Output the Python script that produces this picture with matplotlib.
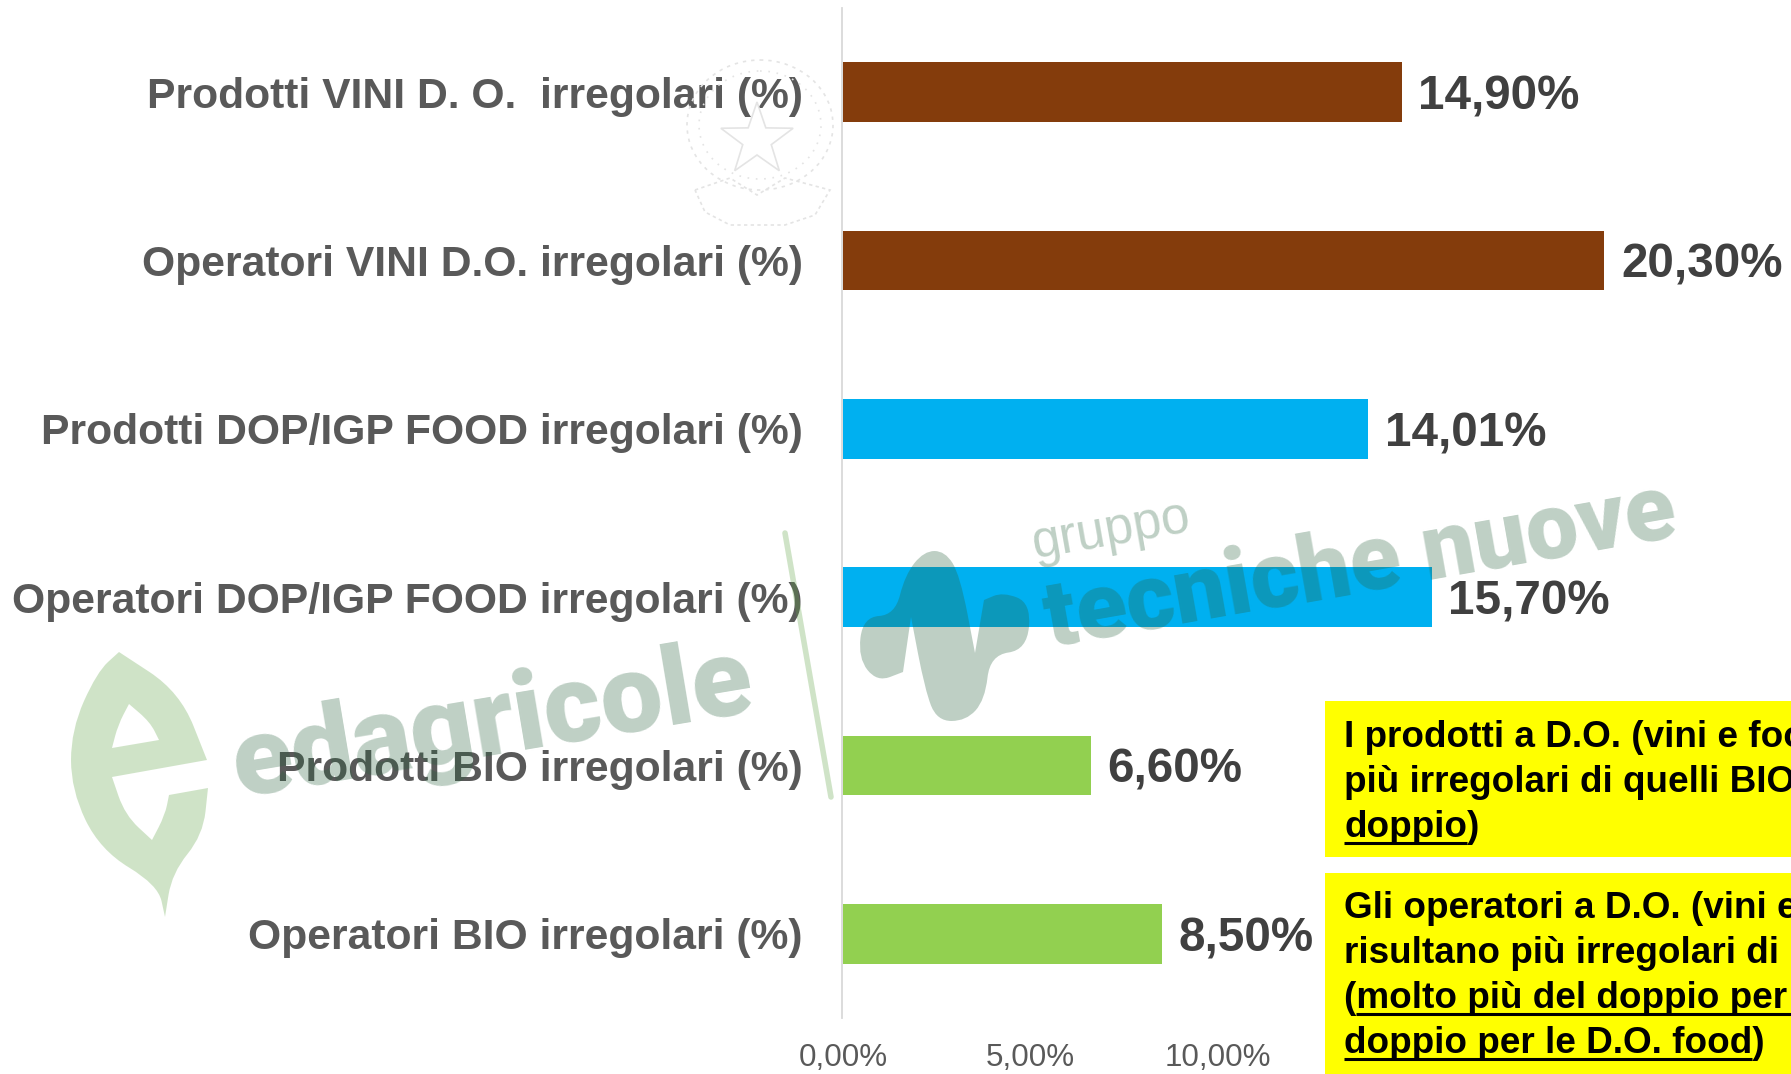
import matplotlib
matplotlib.use("Agg")
import matplotlib.pyplot as plt
from matplotlib.path import Path
from matplotlib.patches import PathPatch, Rectangle, Ellipse, Polygon
import numpy as np

plt.rcParams['font.family'] = ['Liberation Sans', 'DejaVu Sans']

categories = ['Prodotti VINI D. O.  irregolari (%)', 'Operatori VINI D.O. irregolari (%)',
              'Prodotti DOP/IGP FOOD irregolari (%)', 'Operatori DOP/IGP FOOD irregolari (%)',
              'Prodotti BIO irregolari (%)', 'Operatori BIO irregolari (%)']
values = [14.90, 20.30, 14.01, 15.70, 6.60, 8.50]
bar_colors = ['#843C0C', '#843C0C', '#00B0F0', '#00B0F0', '#92D050', '#92D050']
x_ticks = [0, 5, 10]

box1_lines = ['I prodotti a D.O. (vini e food', 'più irregolari di quelli BIO', 'doppio)']
box2_lines = ['Gli operatori a D.O. (vini e', 'risultano più irregolari di',
              '(molto più del doppio per', 'doppio per le D.O. food)']

W, H = 1791, 1074


def pct(v):
    return '{:.2f}%'.format(v).replace('.', ',')


def blob(points):
    # closed smooth outline, a point given twice stays a sharp corner
    verts, codes = [], []
    n = len(points)
    pts = np.array(points, dtype=float)
    verts.append((pts[0] + pts[1]) / 2)
    codes.append(Path.MOVETO)
    for i in range(1, n + 1):
        p = pts[i % n]
        nxt = pts[(i + 1) % n]
        verts += [p, (p + nxt) / 2]
        codes += [Path.CURVE3, Path.CURVE3]
    return verts, codes


fig = plt.figure(figsize=(W / 100, H / 100), dpi=100)
ax = fig.add_axes([843 / W, (H - 1018) / H, (W - 843) / W, 1010 / H])
# set_position resets the ticks, so it comes first
ax.spines['left'].set_position(('outward', 0.8))
y = np.arange(len(categories))
ax.barh(y, values, height=0.356, color=bar_colors)
ax.set_xlim(0, (W - 843) / 37.5)
ax.set_ylim(5.5, -0.5)
ax.set_yticks(y)
ax.set_yticklabels(categories, fontsize=30.7, fontweight='bold', color='#595959')
ax.set_xticks(x_ticks)
ax.set_xticklabels([pct(v) for v in x_ticks], fontsize=22.6, color='#595959')
ax.tick_params(axis='y', length=0, pad=28)
ax.tick_params(axis='x', length=0, pad=18)
for s in ['top', 'right', 'bottom']:
    ax.spines[s].set_visible(False)
ax.spines['left'].set_color('#D9D9D9')
ax.spines['left'].set_linewidth(1.3)
for yi, v in zip(y, values):
    ax.annotate(pct(v), (v, yi), xytext=(12, -3.5), textcoords='offset points',
                va='center', ha='left', fontsize=34.3, fontweight='bold', color='#404040')

# overlay in pixel coordinates for boxes and watermarks
ov = fig.add_axes([0, 0, 1, 1], zorder=5)
ov.set_xlim(0, W)
ov.set_ylim(H, 0)
ov.axis('off')
ov.patch.set_alpha(0)


def text_w(s, **kw):
    t = ov.text(0, 0, s, **kw)
    w = t.get_window_extent(fig.canvas.get_renderer()).width
    t.remove()
    return w


box_font = dict(fontsize=26.6, fontweight='bold', color='black')
ov.add_patch(Rectangle((1325, 701), W - 1325, 156, color='#FFFF00', lw=0))
ov.add_patch(Rectangle((1325, 873), W - 1325, 201, color='#FFFF00', lw=0))
for line, base in zip(box1_lines, [747, 792, 837]):
    ov.text(1344, base, line, va='baseline', **box_font)
for line, base in zip(box2_lines, [918, 963, 1008, 1053]):
    ov.text(1344, base, line, va='baseline', **box_font)

# underlined parts
ul = dict(color='black', lw=2.2, solid_capstyle='butt')
ov.plot([1344, 1344 + text_w('doppio', **box_font)], [843, 843], **ul)
x0 = 1344 + text_w('(', **box_font)
ov.plot([x0, W], [1014, 1014], **ul)
ov.plot([1344, 1344 + text_w('doppio per le D.O. food', **box_font)], [1059, 1059], **ul)

# watermark: edagricole leaf
leaf_v, leaf_c = blob([(119, 652), (119, 652), (180, 692), (207, 760), (207, 760),
                       (112, 777), (112, 777), (125, 815), (152, 840), (152, 840),
                       (165, 815), (169, 795), (169, 795), (208, 788), (208, 788),
                       (203, 835), (172, 873), (165, 917), (165, 917), (158, 885),
                       (100, 850), (71, 790), (71, 730), (97, 672)])
hole_v, hole_c = blob([(129, 704), (129, 704), (150, 722), (159, 740), (159, 740),
                       (112, 748), (112, 748), (118, 725)])
ov.add_patch(PathPatch(Path(leaf_v + hole_v[::-1], leaf_c + [Path.MOVETO] + hole_c[1:]),
                       fc='#62A548', ec='none', alpha=0.3))
ov.plot([785, 831], [533, 797], color='#62A548', alpha=0.3, lw=4, solid_capstyle='round')
wm = dict(color='#29623E', alpha=0.3, rotation_mode='anchor', va='baseline', ha='left')
ov.text(238, 797, 'edagricole', fontsize=79.5, family='Roboto', fontweight='black', rotation=9.5, **wm)

# watermark: gruppo tecniche nuove
logo_v, logo_c = blob([(924, 551), (945, 551), (960, 575), (975, 653), (975, 653),
                       (984, 600), (984, 600), (1003, 592), (1031, 603), (1027, 650),
                       (990, 655), (985, 700), (966, 721), (937, 721), (925, 690),
                       (911, 617), (911, 617), (903, 672), (903, 672), (877, 682),
                       (858, 658), (863, 617), (895, 615), (905, 575)])
ov.add_patch(PathPatch(Path(logo_v, logo_c), fc='#29623E', ec='none', alpha=0.3))
ov.text(1035, 558, 'gruppo', fontsize=37, rotation=10, **wm)
ov.text(1050, 647, 'tecniche nuove', fontsize=67, family='Roboto', fontweight='black', rotation=10, **wm)

# watermark: faint emblem
faint = dict(fc='none', ec='#E4E4E4', lw=1.2)
ov.add_patch(Ellipse((760, 125), 146, 130, ls=(0, (2, 3)), **faint))
ov.add_patch(Ellipse((760, 125), 122, 108, ls=(0, (1, 4)), **faint))
ang = np.deg2rad(np.arange(0, 360, 36) - 90)
rad = np.array([38, 15] * 5)
ov.add_patch(Polygon(np.c_[757 + rad * np.cos(ang), 140 + rad * np.sin(ang)], **faint))
ov.add_patch(Polygon([(695, 190), (730, 178), (757, 195), (785, 178), (830, 190),
                      (815, 215), (785, 225), (730, 225), (705, 212)], ls=(0, (2, 2)), **faint))

fig.savefig('out.png', dpi=100)
